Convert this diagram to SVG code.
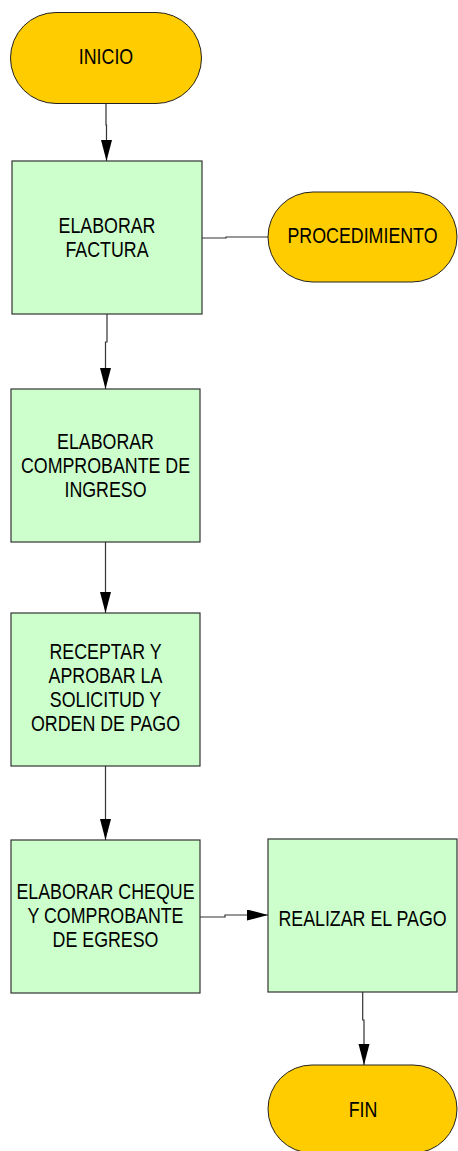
<svg xmlns="http://www.w3.org/2000/svg" width="458" height="1151" viewBox="0 0 458 1151">
<style>
.term{fill:#FFCC00;stroke:#222;stroke-width:1}
.proc{fill:#CCFFCC;stroke:#333;stroke-width:1.2}
.lbl{font-family:"Liberation Sans",Arial,sans-serif;font-size:22px;fill:#000;text-anchor:middle}
.conn{fill:none;stroke:#333;stroke-width:1.2}
</style>
<defs>
<marker id="arr" markerUnits="userSpaceOnUse" markerWidth="22" markerHeight="12" refX="21" refY="5.5" orient="auto">
<path d="M0,0 L21,5.5 L0,11 Z" fill="#000"/>
</marker>
</defs>
<rect width="458" height="1151" fill="#fff"/>
<g id="connectors">
<path class="conn" d="M106,103.5 L106,125 L106.5,125 L106.5,161" marker-end="url(#arr)"/>
<path class="conn" d="M202,238 L226,238 L226,237 L268,237"/>
<path class="conn" d="M107,314 L107,342 L105.5,342 L105.5,389" marker-end="url(#arr)"/>
<path class="conn" d="M105.5,542 L105.5,613" marker-end="url(#arr)"/>
<path class="conn" d="M105.5,766 L105.5,840" marker-end="url(#arr)"/>
<path class="conn" d="M200,917 L225,917 L225,915 L268,915" marker-end="url(#arr)"/>
<path class="conn" d="M362.7,992 L362.7,1020 L364,1020 L364,1065" marker-end="url(#arr)"/>
</g>
<g id="inicio">
<rect class="term" x="10.5" y="12.5" width="191" height="91" rx="45.5"/>
<text class="lbl" transform="translate(106,0) scale(0.81,1)" x="0" y="64.3">INICIO</text>
</g>
<g id="elaborar-factura">
<rect class="proc" x="12" y="161" width="190" height="153"/>
<text class="lbl" transform="translate(107,0) scale(0.81,1)"><tspan x="0" y="233.3">ELABORAR</tspan><tspan x="0" y="257.5">FACTURA</tspan></text>
</g>
<g id="procedimiento">
<rect class="term" x="268" y="192" width="189" height="90" rx="45"/>
<text class="lbl" transform="translate(362.5,0) scale(0.81,1)" x="0" y="243.5">PROCEDIMIENTO</text>
</g>
<g id="comprobante-ingreso">
<rect class="proc" x="11" y="389" width="189" height="153"/>
<text class="lbl" transform="translate(105.5,0) scale(0.81,1)"><tspan x="0" y="448.7">ELABORAR</tspan><tspan x="0" y="472.8">COMPROBANTE DE</tspan><tspan x="0" y="497">INGRESO</tspan></text>
</g>
<g id="receptar">
<rect class="proc" x="11" y="613" width="189" height="153"/>
<text class="lbl" transform="translate(105.5,0) scale(0.81,1)"><tspan x="0" y="658.7">RECEPTAR Y</tspan><tspan x="0" y="682.8">APROBAR LA</tspan><tspan x="0" y="706.8">SOLICITUD Y</tspan><tspan x="0" y="731">ORDEN DE PAGO</tspan></text>
</g>
<g id="cheque">
<rect class="proc" x="11" y="840" width="189" height="153"/>
<text class="lbl" transform="translate(105.5,0) scale(0.81,1)"><tspan x="0" y="898.7">ELABORAR CHEQUE</tspan><tspan x="0" y="922.8">Y COMPROBANTE</tspan><tspan x="0" y="947.2">DE EGRESO</tspan></text>
</g>
<g id="realizar-pago">
<rect class="proc" x="268" y="839" width="189" height="153"/>
<text class="lbl" transform="translate(362.5,0) scale(0.81,1)" x="0" y="926">REALIZAR EL PAGO</text>
</g>
<g id="fin">
<rect class="term" x="268" y="1065" width="189" height="88" rx="44"/>
<text class="lbl" transform="translate(363,0) scale(0.81,1)" x="0" y="1116.7">FIN</text>
</g>
</svg>
